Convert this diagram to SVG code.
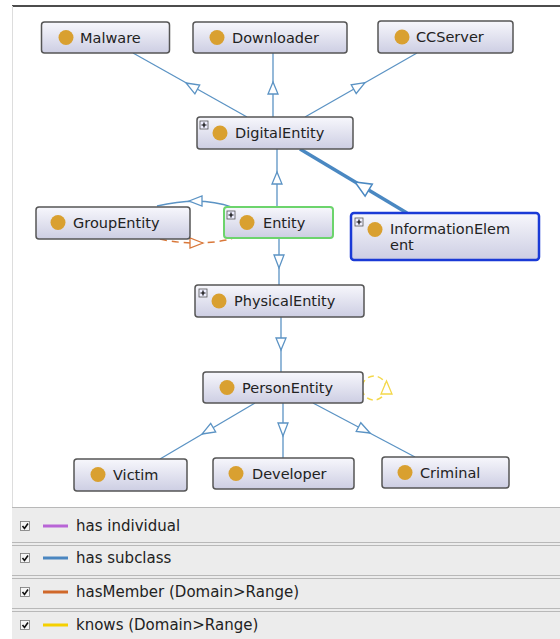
<svg xmlns="http://www.w3.org/2000/svg" width="560" height="639" viewBox="0 0 560 639">
<defs>
<linearGradient id="boxg" x1="0" y1="0" x2="0" y2="1">
<stop offset="0" stop-color="#f7f7fc"/>
<stop offset="1" stop-color="#cdcee3"/>
</linearGradient>
<style>
.box{fill:url(#boxg);stroke:#555;stroke-width:1.5}
.dot{fill:#d9a030}
.lbl{font-family:"DejaVu Sans",Verdana,sans-serif;font-size:14.5px;fill:#222}
.pl{fill:#eef;stroke:#555;stroke-width:0.8}
.plx{stroke:#000;stroke-width:1.2}
.e{fill:none;stroke:#5b93c4;stroke-width:1.3}
.a{fill:#fff;stroke:#5b93c4;stroke-width:1.3}
.leg{font-family:"DejaVu Sans",Verdana,sans-serif;font-size:15px;fill:#222}
.cb{fill:#f6f6f6;stroke:#777;stroke-width:0.8}
.ck{fill:none;stroke:#111;stroke-width:1.6}
.sep{stroke:#b8b8b8;stroke-width:1}
</style>
</defs>
<rect x="0" y="0" width="560" height="639" fill="#fff"/>
<line x1="12" y1="6" x2="560" y2="6" stroke="#111" stroke-width="1.5"/>
<line x1="12.5" y1="6" x2="12.5" y2="507" stroke="#ddd" stroke-width="1"/>

<g id="connectors">
<line class="e" x1="133" y1="53" x2="247" y2="117"/>
<polygon class="a" points="186,83 199.7,85 194.9,93.8"/>
<line class="e" x1="273" y1="53" x2="273" y2="117"/>
<polygon class="a" points="273,82 268,94 278,94"/>
<line class="e" x1="417" y1="53" x2="305" y2="117"/>
<polygon class="a" points="365,82.7 356.2,93.5 351.2,84.8"/>
<line x1="300" y1="149" x2="407" y2="213" stroke="#4a88c2" stroke-width="3.5"/>
<polygon points="355,182 365.1,196.2 372.3,184.2" fill="#fff" stroke="#4a88c2" stroke-width="1.5"/>
<line class="e" x1="277" y1="149" x2="277" y2="207"/>
<polygon class="a" points="277,172 272,184 282,184"/>
<path class="e" d="M232 207 Q200 196 157 206"/>
<polygon class="a" points="189,201 202,196 202,206"/>
<path d="M160 239 Q195 247 232 239" fill="none" stroke="#d9783a" stroke-width="1.5" stroke-dasharray="7 5"/>
<polygon points="203,243 190,238 190,248" fill="#fff" stroke="#d9783a" stroke-width="1.3"/>
<line class="e" x1="279" y1="239" x2="279" y2="285"/>
<polygon class="a" points="279,268 274,255 284,255"/>
<line class="e" x1="281" y1="317" x2="281" y2="372"/>
<polygon class="a" points="281,350 276,338 286,338"/>
<line class="e" x1="255" y1="403" x2="160" y2="459"/>
<polygon class="a" points="202,434 215.7,431.9 210.7,423.3"/>
<line class="e" x1="283" y1="403" x2="283" y2="458"/>
<polygon class="a" points="283,436 278,423 288,423"/>
<line class="e" x1="313" y1="403" x2="415" y2="457"/>
<polygon class="a" points="370,433 356.2,431.5 360.8,422.7"/>
<circle cx="374" cy="388" r="12" fill="none" stroke="#f4d84a" stroke-width="1.5" stroke-dasharray="6 4"/>
<polygon points="386.5,381 381,394 392,394" fill="#fff" stroke="#f4d84a" stroke-width="1.3"/>
</g>

<g id="Malware">
<rect class="box" x="41.5" y="22" width="128" height="31" rx="3"/>
<circle class="dot" cx="66" cy="37.5" r="7.5"/>
<text class="lbl" x="80" y="43">Malware</text>
</g>
<g id="Downloader">
<rect class="box" x="193" y="22" width="154" height="31" rx="3"/>
<circle class="dot" cx="217" cy="37.5" r="7.5"/>
<text class="lbl" x="232" y="43">Downloader</text>
</g>
<g id="CCServer">
<rect class="box" x="378" y="21" width="135" height="32" rx="3"/>
<circle class="dot" cx="402" cy="37" r="7.5"/>
<text class="lbl" x="416" y="42">CCServer</text>
</g>
<g id="DigitalEntity">
<rect class="box" x="197" y="117" width="156" height="32" rx="3"/>
<rect class="pl" x="200" y="121" width="8" height="8"/>
<path class="plx" d="M201.5 125h5M204 122.5v5"/>
<circle class="dot" cx="220" cy="133" r="7.5"/>
<text class="lbl" x="235" y="138">DigitalEntity</text>
</g>
<g id="GroupEntity">
<rect class="box" x="36" y="207" width="154" height="32" rx="3"/>
<circle class="dot" cx="58" cy="222.5" r="7.5"/>
<text class="lbl" x="73" y="228">GroupEntity</text>
</g>
<g id="Entity">
<rect class="box" x="224" y="207" width="109" height="31" rx="3" style="stroke:#6cd46c;stroke-width:2"/>
<rect class="pl" x="227" y="211" width="8" height="8"/>
<path class="plx" d="M228.5 215h5M231 212.5v5"/>
<circle class="dot" cx="247" cy="222.5" r="7.5"/>
<text class="lbl" x="263" y="228">Entity</text>
</g>
<g id="InformationElement">
<rect class="box" x="351" y="213" width="188" height="47" rx="3" style="stroke:#1a3ad6;stroke-width:2.5"/>
<rect class="pl" x="355" y="218" width="8" height="8"/>
<path class="plx" d="M356.5 222h5M359 219.5v5"/>
<circle class="dot" cx="375" cy="229.5" r="7.5"/>
<text class="lbl" x="390" y="233.5">InformationElem</text>
<text class="lbl" x="390" y="249.5">ent</text>
</g>
<g id="PhysicalEntity">
<rect class="box" x="195" y="285" width="169" height="32" rx="3"/>
<rect class="pl" x="199" y="289" width="8" height="8"/>
<path class="plx" d="M200.5 293h5M203 290.5v5"/>
<circle class="dot" cx="219" cy="301" r="7.5"/>
<text class="lbl" x="234" y="306">PhysicalEntity</text>
</g>
<g id="PersonEntity">
<rect class="box" x="203" y="372" width="160" height="31" rx="3"/>
<circle class="dot" cx="227" cy="387.5" r="7.5"/>
<text class="lbl" x="242" y="393">PersonEntity</text>
</g>
<g id="Victim">
<rect class="box" x="74" y="459" width="113" height="32" rx="3"/>
<circle class="dot" cx="98" cy="474.5" r="7.5"/>
<text class="lbl" x="113" y="480">Victim</text>
</g>
<g id="Developer">
<rect class="box" x="213" y="458" width="141" height="31" rx="3"/>
<circle class="dot" cx="236" cy="473.5" r="7.5"/>
<text class="lbl" x="252" y="479">Developer</text>
</g>
<g id="Criminal">
<rect class="box" x="382" y="457" width="127" height="31" rx="3"/>
<circle class="dot" cx="405" cy="472.5" r="7.5"/>
<text class="lbl" x="420" y="478">Criminal</text>
</g>

<g id="legend">
<rect x="12" y="507" width="548" height="132" fill="#ececec"/>
<line class="sep" x1="12" y1="507.5" x2="560" y2="507.5"/>
<line class="sep" x1="12" y1="542.5" x2="560" y2="542.5"/>
<line class="sep" x1="12" y1="545.5" x2="560" y2="545.5"/>
<line class="sep" x1="12" y1="575.5" x2="560" y2="575.5"/>
<line class="sep" x1="12" y1="578.5" x2="560" y2="578.5"/>
<line class="sep" x1="12" y1="608.5" x2="560" y2="608.5"/>
<line class="sep" x1="12" y1="611.5" x2="560" y2="611.5"/>
<g id="leg-individual">
<rect class="cb" x="20.5" y="521.5" width="9" height="9"/>
<path class="ck" d="M22.5 526l2 2.5 3.5-5"/>
<line x1="43" y1="526" x2="68" y2="526" stroke="#b865d6" stroke-width="3"/>
<text class="leg" x="76" y="531">has individual</text>
</g>
<g id="leg-subclass">
<rect class="cb" x="20.5" y="553.5" width="9" height="9"/>
<path class="ck" d="M22.5 558l2 2.5 3.5-5"/>
<line x1="43" y1="558" x2="68" y2="558" stroke="#4a86c0" stroke-width="3"/>
<text class="leg" x="76" y="563">has subclass</text>
</g>
<g id="leg-hasMember">
<rect class="cb" x="20.5" y="587.5" width="9" height="9"/>
<path class="ck" d="M22.5 592l2 2.5 3.5-5"/>
<line x1="43" y1="592" x2="68" y2="592" stroke="#d0682a" stroke-width="3"/>
<text class="leg" x="76" y="597">hasMember (Domain&gt;Range)</text>
</g>
<g id="leg-knows">
<rect class="cb" x="20.5" y="620.5" width="9" height="9"/>
<path class="ck" d="M22.5 625l2 2.5 3.5-5"/>
<line x1="43" y1="625" x2="68" y2="625" stroke="#f5d000" stroke-width="3"/>
<text class="leg" x="76" y="630">knows (Domain&gt;Range)</text>
</g>
</g>
</svg>
